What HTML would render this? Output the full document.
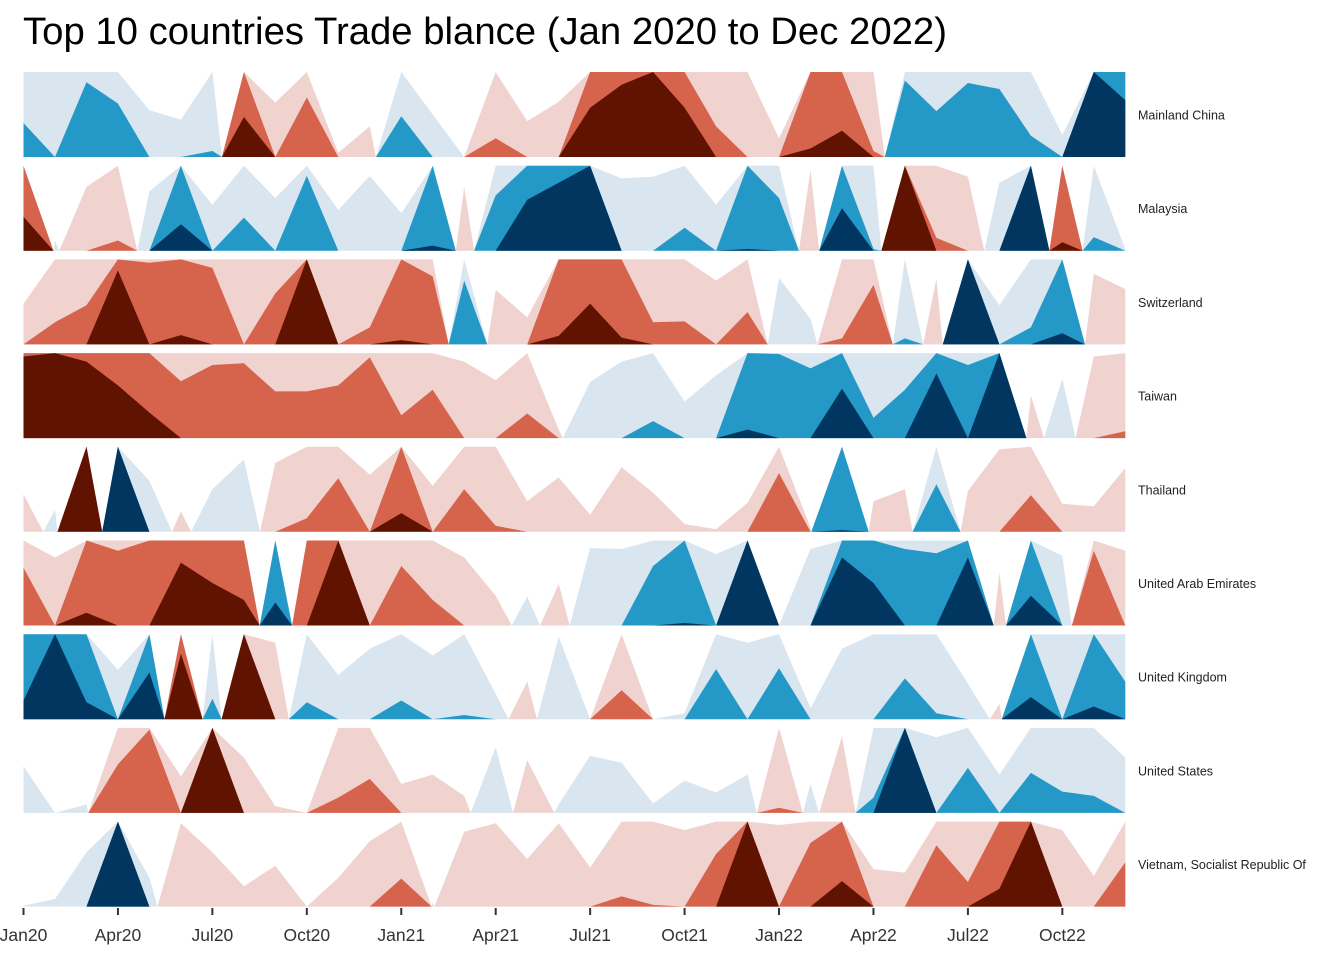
<!DOCTYPE html>
<html><head><meta charset="utf-8"><style>
body{margin:0;background:#fff;}
svg{display:block;}
text{font-family:"Liberation Sans",Arial,sans-serif;}
</style></head><body>
<svg id="s" width="1344" height="960" xmlns="http://www.w3.org/2000/svg">
<rect width="1344" height="960" fill="#fff"/>
<text x="23" y="44" font-size="38.3" fill="#000">Top 10 countries Trade blance (Jan 2020 to Dec 2022)</text>
</svg>
<script>
var data=[
["Mainland China",[1.4,1.0,1.88,1.63,0.55,0.44,1.07,-2.47,-0.64,-1.7,-0.05,-0.36,1.48,0.5,0,-1.22,-0.42,-0.65,-2.58,-2.85,-3,-2.58,-1.36,-1.0,-0.22,-2.1,-2.31,-1.07,1.9,1.54,1.87,1.8,1.25,0.26,3.0,2.67]],
["Malaysia",[-2.4,0.12,-0.75,-1.12,0.7,2.31,0.54,1.39,0.62,1.88,0.48,0.88,0.44,2.06,-0.75,1.65,2.6,2.8,3.0,0.85,0.87,1.27,0.54,2.02,1.62,-0.95,2.5,1.02,-3.0,-1.15,-0.87,0.8,3.0,-2.1,1.16,0.02]],
["Switzerland",[-0.48,-1.26,-1.46,-2.87,-1.96,-2.11,-1.9,-1.0,-1.6,-3.0,-1.0,-1.2,-2.05,-1.8,1.75,-0.64,-0.32,-2.1,-2.48,-2.08,-1.26,-1.27,-0.75,-1.38,0.78,0.3,-1.07,-1.7,1.07,-0.77,3.0,0.46,1.2,2.13,-0.83,-0.65]],
["Taiwan",[-2.96,-3,-2.9,-2.62,-2.3,-1.67,-1.86,-1.88,-1.55,-1.55,-1.62,-1.95,-1.27,-1.57,-0.9,-0.68,-1.29,-0.1,0.66,0.9,1.2,0.43,0.74,2.1,1.99,1.82,2.58,1.24,1.57,2.76,1.86,3.0,-0.5,0.7,-0.96,-1.08]],
["Thailand",[-0.44,0.26,-3.0,3.0,0.6,-0.24,0.5,0.85,-0.81,-1.16,-1.63,-0.67,-2.22,-0.54,-1.5,-1.07,-0.36,-0.64,-0.2,-0.76,-0.46,-0.09,-0.03,-0.34,-1.69,-0.05,2.02,-0.36,-0.5,1.56,-0.48,-0.97,-1.43,-0.33,-0.3,-0.75]],
["United Arab Emirates",[-1.68,-0.8,-2.15,-1.88,-2.0,-2.74,-2.5,-2.3,2.27,-2.0,-3.0,-1.0,-1.7,-1.3,-0.8,-0.35,0.34,-0.49,0.91,0.9,1.7,2.03,0.84,3.0,0.0,0.9,2.8,2.5,1.9,1.85,2.8,-0.62,2.35,0.82,-1.88,-0.88]],
["United Kingdom",[2.22,3.0,2.2,0.58,2.55,-2.77,1.24,-3.0,-0.9,1.2,0.52,0.83,1.22,0.75,1.05,0.3,-0.44,0.97,0.0,-1.34,0.0,0.07,1.59,0.9,1.6,0.13,0.83,1.0,1.48,1.07,0.42,-0.18,2.26,1.0,2.15,1.44]],
["United States",[0.55,0,0.1,-1.57,-1.98,-0.43,-3.0,-0.65,-0.08,0,-1.18,-1.4,-0.34,-0.45,-0.2,0.77,-0.62,0.1,0.67,0.59,0.11,0.38,0.24,0.45,-1.06,0.34,-0.9,1.18,3.0,0.89,1.53,0.45,1.47,1.25,1.2,0.65]],
["Vietnam, Socialist Republic Of",[0.01,0.09,0.64,3.0,0.34,-0.98,-0.64,-0.24,-0.48,0,-0.34,-0.77,-1.33,0.05,-0.88,-0.98,-0.56,-0.98,-0.46,-1.12,-1.02,-0.9,-1.62,-3.0,-0.96,-1.75,-2.3,-0.44,-0.4,-1.72,-1.29,-2.21,-3.0,-0.9,-0.36,-1.52]]
];
var pos=["#d9e5ef","#2499c7","#003660"],neg=["#f0d2cf","#d6634c","#5f1300"];
var s=document.getElementById("s"),NS="http://www.w3.org/2000/svg";
function el(t,a,txt){var e=document.createElementNS(NS,t);for(var k in a)e.setAttribute(k,a[k]);if(txt!=null)e.textContent=txt;s.appendChild(e);return e;}
var step=31.48,x0=23.5,H=85;
data.forEach(function(d,r){
  var top=72+r*93.7,bot=top+H,v=d[1];
  var pts=[];
  for(var i=0;i<36;i++){
    pts.push([x0+step*i,v[i]]);
    if(i<35&&v[i]*v[i+1]<0){var t=v[i]/(v[i]-v[i+1]);pts.push([x0+step*(i+t),0]);}
  }
  [1,-1].forEach(function(sg){
    for(var k=0;k<3;k++){
      var p=[[x0,bot]];
      pts.forEach(function(q){var f=Math.min(1,Math.max(0,sg*q[1]-k));p.push([q[0],bot-H*f]);});
      p.push([x0+step*35,bot]);
      el("polygon",{points:p.map(function(a){return a[0].toFixed(1)+","+a[1].toFixed(1)}).join(" "),fill:(sg>0?pos:neg)[k]});
    }
  });
  el("text",{x:1138,y:top+H/2+5,"font-size":12.5,fill:"#222"},d[0]);
});
var labs=["Jan20","Apr20","Jul20","Oct20","Jan21","Apr21","Jul21","Oct21","Jan22","Apr22","Jul22","Oct22"];
labs.forEach(function(l,i){var x=x0+step*3*i;el("line",{x1:x,x2:x,y1:908,y2:915,stroke:"#333","stroke-width":2});
el("text",{x:x,y:941,"font-size":17.5,fill:"#333","text-anchor":"middle"},l);});
</script>
</body></html>
